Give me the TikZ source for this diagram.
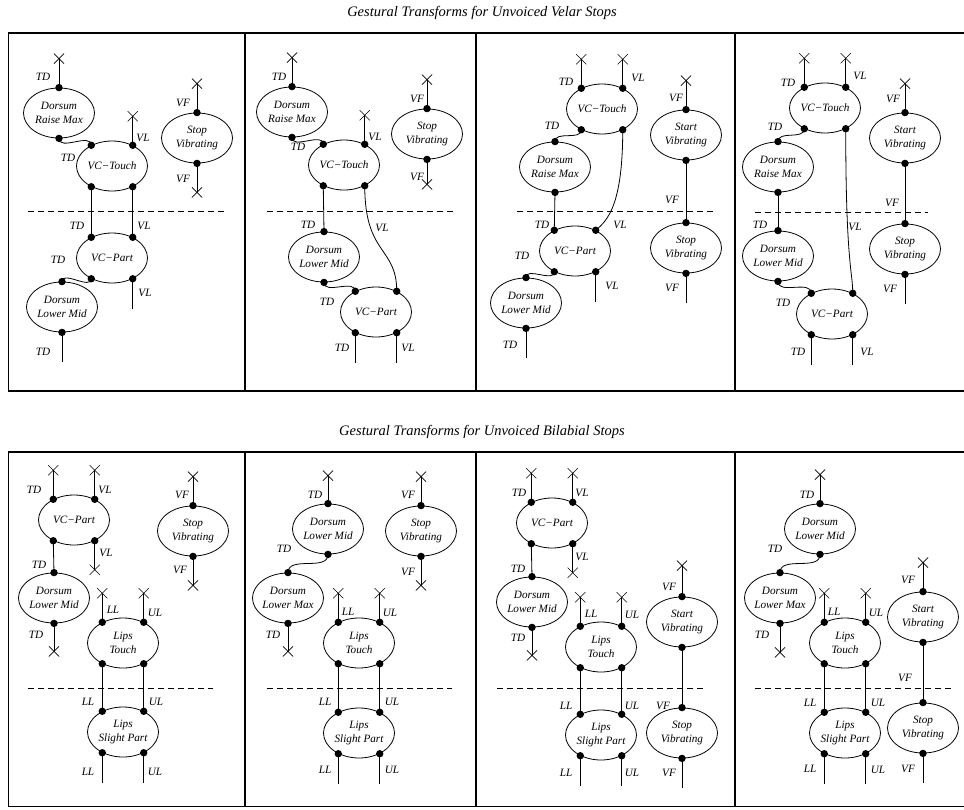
\documentclass[tikz,border=0pt]{standalone}
\usepackage{fontspec}
\setmainfont{Liberation Serif}
\usepackage{tikz}
\usetikzlibrary{shapes.geometric,shapes.misc}
\newcommand{\gestfont}{\itshape\fontsize{11.2}{14.5}\selectfont}
\newcommand{\headfont}{\itshape\fontsize{14.5}{16}\selectfont}

\begin{document}
\begin{tikzpicture}[x=1pt,y=-1pt,font=\gestfont,
gesture/.style={draw, ellipse, line width=0.8pt, minimum width=71pt, minimum height=50pt,
  inner xsep=-6pt, inner ysep=0pt, align=center},
stub/.style={draw, cross out, line width=0.6pt, minimum size=9.5pt, inner sep=0pt},
lbl/.style={inner sep=0pt},
wire/.style={line width=0.8pt},
wave/.style={out=-90, in=90},
cut/.style={dash pattern=on 6pt off 4pt, line width=0.7pt},
frame/.style={line width=1.3pt}]
\useasboundingbox (0,0) rectangle (964,809);

% titles and frames
\node[font=\headfont] (velar) at (482,13) {Gestural Transforms for Unvoiced Velar Stops};
\node[font=\headfont] (bilabial) at (482,432) {Gestural Transforms for Unvoiced Bilabial Stops};
\foreach \t/\b in {33/391, 452/806.5} {
  \draw[frame] (8.5,\t) rectangle (972,\b);
  \foreach \x in {245,476,735} \draw[frame] (\x,\t) -- (\x,\b);
}

% velar, panel 1
\node[gesture] (p1drm) at (59,113) {Dorsum\\Raise Max};
\node[gesture] (p1vct) at (112,166) {VC−Touch};
\node[gesture] (p1sv) at (197,138) {Stop\\Vibrating};
\node[gesture] (p1vcp) at (112,258) {VC−Part};
\node[gesture] (p1dlm) at (62,307) {Dorsum\\Lower Mid};
\node[stub] (p1x1) at ([yshift=29pt]p1drm.north) {};
\node[stub] (p1x2) at ([yshift=29pt]p1vct.45) {};
\node[stub] (p1x3) at ([yshift=29pt]p1sv.north) {};
\node[stub] (p1x4) at ([yshift=-29pt]p1sv.south) {};
\coordinate (p1e1) at ([yshift=-30pt]p1vcp.-45);
\coordinate (p1e2) at ([yshift=-30pt]p1dlm.south);
\draw[wire] (p1drm.north) -- (p1x1.center);
\draw[wire] (p1drm.south) to[wave] (p1vct.135);
\draw[wire] (p1vct.45) -- (p1x2.center);
\draw[wire] (p1sv.north) -- (p1x3.center);
\draw[wire] (p1sv.south) -- (p1x4.center);
\draw[wire] (p1vct.-135) -- (p1vcp.135);
\draw[wire] (p1vct.-45) -- (p1vcp.45);
\draw[wire] (p1vcp.-45) -- (p1e1);
\draw[wire] (p1vcp.-135) to[wave] (p1dlm.north);
\draw[wire] (p1dlm.south) -- (p1e2);
\draw[cut] (28,211) -- (227,211);
\foreach \x/\y/\t [count=\i] in {43/77/TD, 143/138/VL, 68/158/TD, 183/103/VF, 183/179/VF,
  77/226/TD, 144/226/VL, 58/260/TD, 145/293/VL, 43/352/TD}
  \node[lbl] (p1l\i) at (\x,\y) {\t};

% velar, panel 2
\node[gesture] (p2drm) at (292,112) {Dorsum\\Raise Max};
\node[gesture] (p2vct) at (344,165) {VC−Touch};
\node[gesture] (p2sv) at (427,134) {Stop\\Vibrating};
\node[gesture] (p2dlm) at (324,257) {Dorsum\\Lower Mid};
\node[gesture] (p2vcp) at (376,312) {VC−Part};
\node[stub] (p2x1) at ([yshift=29pt]p2drm.north) {};
\node[stub] (p2x2) at ([yshift=29pt]p2vct.45) {};
\node[stub] (p2x3) at ([yshift=29pt]p2sv.north) {};
\node[stub] (p2x4) at ([yshift=-25pt]p2sv.south) {};
\coordinate (p2e1) at ([yshift=-30pt]p2vcp.-135);
\coordinate (p2e2) at ([yshift=-30pt]p2vcp.-45);
\draw[wire] (p2drm.north) -- (p2x1.center);
\draw[wire] (p2drm.south) to[wave] (p2vct.135);
\draw[wire] (p2vct.45) -- (p2x2.center);
\draw[wire] (p2sv.north) -- (p2x3.center);
\draw[wire] (p2sv.south) -- (p2x4.center);
\draw[wire] (p2vct.-135) -- (p2dlm.north);
\draw[wire] (p2dlm.south) to[wave] (p2vcp.135);
\draw[wire] (p2vct.-45) .. controls +(0,70) and +(0,-45) .. (p2vcp.45);
\draw[wire] (p2vcp.-135) -- (p2e1);
\draw[wire] (p2vcp.-45) -- (p2e2);
\draw[cut] (267,211) -- (453,211);
\foreach \x/\y/\t [count=\i] in {279/77/TD, 375/137/VL, 298/147/TD, 417/99/VF, 417/177/VF,
  308/225/TD, 382/228/VL, 327/302/TD, 342/348/TD, 408/348/VL}
  \node[lbl] (p2l\i) at (\x,\y) {\t};

% velar, panel 3
\node[gesture] (p3vct) at (602,109) {VC−Touch};
\node[gesture] (p3start) at (686,135) {Start\\Vibrating};
\node[gesture] (p3drm) at (555,167) {Dorsum\\Raise Max};
\node[gesture] (p3vcp) at (575,251) {VC−Part};
\node[gesture] (p3stop) at (686,248) {Stop\\Vibrating};
\node[gesture] (p3dlm) at (526,303) {Dorsum\\Lower Mid};
\node[stub] (p3x1) at ([yshift=29pt]p3vct.135) {};
\node[stub] (p3x2) at ([yshift=29pt]p3vct.45) {};
\node[stub] (p3x3) at ([yshift=29pt]p3start.north) {};
\coordinate (p3e1) at ([yshift=-30pt]p3vcp.-45);
\coordinate (p3e2) at ([yshift=-30pt]p3dlm.south);
\coordinate (p3e3) at ([yshift=-30pt]p3stop.south);
\draw[wire] (p3vct.135) -- (p3x1.center);
\draw[wire] (p3vct.45) -- (p3x2.center);
\draw[wire] (p3start.north) -- (p3x3.center);
\draw[wire] (p3vct.-135) to[wave] (p3drm.north);
\draw[wire] (p3vct.-45) .. controls +(0,75) and +(12,-10) .. (p3vcp.45);
\draw[wire] (p3drm.south) -- (p3vcp.135);
\draw[wire] (p3start.south) -- (p3stop.north);
\draw[wire] (p3vcp.-45) -- (p3e1);
\draw[wire] (p3vcp.-135) to[wave] (p3dlm.north);
\draw[wire] (p3dlm.south) -- (p3e2);
\draw[wire] (p3stop.south) -- (p3e3);
\draw[cut] (517,211) -- (714,211);
\foreach \x/\y/\t [count=\i] in {566/82/TD, 638/78/VL, 676/98/VF, 552/126/TD, 672/200/VF,
  542/225/TD, 620/225/VL, 522/256/TD, 612/286/VL, 672/288/VF, 510/345/TD}
  \node[lbl] (p3l\i) at (\x,\y) {\t};

% velar, panel 4
\node[gesture] (p4vct) at (825,108) {VC−Touch};
\node[gesture] (p4start) at (905,138) {Start\\Vibrating};
\node[gesture] (p4drm) at (778,167) {Dorsum\\Raise Max};
\node[gesture] (p4dlm) at (778,256) {Dorsum\\Lower Mid};
\node[gesture] (p4vcp) at (832,314) {VC−Part};
\node[gesture] (p4stop) at (905,249) {Stop\\Vibrating};
\node[stub] (p4x1) at ([yshift=29pt]p4vct.135) {};
\node[stub] (p4x2) at ([yshift=29pt]p4vct.45) {};
\node[stub] (p4x3) at ([yshift=29pt]p4start.north) {};
\coordinate (p4e1) at ([yshift=-30pt]p4vcp.-135);
\coordinate (p4e2) at ([yshift=-30pt]p4vcp.-45);
\coordinate (p4e3) at ([yshift=-30pt]p4stop.south);
\draw[wire] (p4vct.135) -- (p4x1.center);
\draw[wire] (p4vct.45) -- (p4x2.center);
\draw[wire] (p4start.north) -- (p4x3.center);
\draw[wire] (p4vct.-135) to[wave] (p4drm.north);
\draw[wire] (p4drm.south) -- (p4dlm.north);
\draw[wire] (p4dlm.south) to[wave] (p4vcp.135);
\draw[wire] (p4vct.-45) .. controls +(0,135) and +(0,-22) .. (p4vcp.45);
\draw[wire] (p4start.south) -- (p4stop.north);
\draw[wire] (p4vcp.-135) -- (p4e1);
\draw[wire] (p4vcp.-45) -- (p4e2);
\draw[wire] (p4stop.south) -- (p4e3);
\draw[cut] (755,212) -- (928,212);
\foreach \x/\y/\t [count=\i] in {788/83/TD, 860/76/VL, 893/99/VF, 775/127/TD, 892/203/VF,
  760/225/TD, 855/227/VL, 783/303/TD, 890/289/VF, 798/352/TD, 867/352/VL}
  \node[lbl] (p4l\i) at (\x,\y) {\t};

% bilabial, panel 1
\node[gesture] (p5vcp) at (74,520) {VC−Part};
\node[gesture] (p5sv) at (193,531) {Stop\\Vibrating};
\node[gesture] (p5dlm) at (54,598) {Dorsum\\Lower Mid};
\node[gesture] (p5lt) at (123,643) {Lips\\Touch};
\node[gesture] (p5lsp) at (123,732) {Lips\\Slight Part};
\node[stub] (p5x1) at ([yshift=29pt]p5vcp.135) {};
\node[stub] (p5x2) at ([yshift=29pt]p5vcp.45) {};
\node[stub] (p5x3) at ([yshift=-29pt]p5vcp.-45) {};
\node[stub] (p5x4) at ([yshift=29pt]p5sv.north) {};
\node[stub] (p5x5) at ([yshift=-29pt]p5sv.south) {};
\node[stub] (p5x6) at ([yshift=-28pt]p5dlm.south) {};
\node[stub] (p5x7) at ([yshift=29pt]p5lt.135) {};
\node[stub] (p5x8) at ([yshift=29pt]p5lt.45) {};
\coordinate (p5e1) at ([yshift=-30pt]p5lsp.-135);
\coordinate (p5e2) at ([yshift=-30pt]p5lsp.-45);
\draw[wire] (p5vcp.135) -- (p5x1.center);
\draw[wire] (p5vcp.45) -- (p5x2.center);
\draw[wire] (p5vcp.-45) -- (p5x3.center);
\draw[wire] (p5vcp.-135) -- (p5dlm.north);
\draw[wire] (p5sv.north) -- (p5x4.center);
\draw[wire] (p5sv.south) -- (p5x5.center);
\draw[wire] (p5dlm.south) -- (p5x6.center);
\draw[wire] (p5lt.135) -- (p5x7.center);
\draw[wire] (p5lt.45) -- (p5x8.center);
\draw[wire] (p5lt.-135) -- (p5lsp.135);
\draw[wire] (p5lt.-45) -- (p5lsp.45);
\draw[wire] (p5lsp.-135) -- (p5e1);
\draw[wire] (p5lsp.-45) -- (p5e2);
\draw[cut] (28,688) -- (213,688);
\foreach \x/\y/\t [count=\i] in {34/490/TD, 105/490/VL, 106/553/VL, 39/565/TD, 182/495/VF,
  180/570/VF, 36/635/TD, 113/610/LL, 155/613/UL, 88/702/LL, 156/702/UL, 88/772/LL, 155/772/UL}
  \node[lbl] (p5l\i) at (\x,\y) {\t};

% bilabial, panel 2
\node[gesture] (p6dlm) at (328,529) {Dorsum\\Lower Mid};
\node[gesture] (p6sv) at (421,531) {Stop\\Vibrating};
\node[gesture] (p6dlx) at (288,598) {Dorsum\\Lower Max};
\node[gesture] (p6lt) at (359,643) {Lips\\Touch};
\node[gesture] (p6lsp) at (359,733) {Lips\\Slight Part};
\node[stub] (p6x1) at ([yshift=28pt]p6dlm.north) {};
\node[stub] (p6x2) at ([yshift=29pt]p6sv.north) {};
\node[stub] (p6x3) at ([yshift=-29pt]p6sv.south) {};
\node[stub] (p6x4) at ([yshift=-28pt]p6dlx.south) {};
\node[stub] (p6x5) at ([yshift=29pt]p6lt.135) {};
\node[stub] (p6x6) at ([yshift=29pt]p6lt.45) {};
\coordinate (p6e1) at ([yshift=-30pt]p6lsp.-135);
\coordinate (p6e2) at ([yshift=-30pt]p6lsp.-45);
\draw[wire] (p6dlm.north) -- (p6x1.center);
\draw[wire] (p6dlm.south) to[wave] (p6dlx.north);
\draw[wire] (p6sv.north) -- (p6x2.center);
\draw[wire] (p6sv.south) -- (p6x3.center);
\draw[wire] (p6dlx.south) -- (p6x4.center);
\draw[wire] (p6lt.135) -- (p6x5.center);
\draw[wire] (p6lt.45) -- (p6x6.center);
\draw[wire] (p6lt.-135) -- (p6lsp.135);
\draw[wire] (p6lt.-45) -- (p6lsp.45);
\draw[wire] (p6lsp.-135) -- (p6e1);
\draw[wire] (p6lsp.-45) -- (p6e2);
\draw[cut] (267,688) -- (452,688);
\foreach \x/\y/\t [count=\i] in {315/495/TD, 408/495/VF, 408/572/VF, 284/549/TD, 273/635/TD,
  348/612/LL, 390/613/UL, 325/702/LL, 392/702/UL, 325/770/LL, 392/770/UL}
  \node[lbl] (p6l\i) at (\x,\y) {\t};

% bilabial, panel 3
\node[gesture] (p7vcp) at (552,523) {VC−Part};
\node[gesture] (p7dlm) at (532,602) {Dorsum\\Lower Mid};
\node[gesture] (p7lt) at (601,647) {Lips\\Touch};
\node[gesture] (p7start) at (682,622) {Start\\Vibrating};
\node[gesture] (p7lsp) at (601,735) {Lips\\Slight Part};
\node[gesture] (p7stop) at (682,733) {Stop\\Vibrating};
\node[stub] (p7x1) at ([yshift=29pt]p7vcp.135) {};
\node[stub] (p7x2) at ([yshift=29pt]p7vcp.45) {};
\node[stub] (p7x3) at ([yshift=-29pt]p7vcp.-45) {};
\node[stub] (p7x4) at ([yshift=-28pt]p7dlm.south) {};
\node[stub] (p7x5) at ([yshift=29pt]p7lt.135) {};
\node[stub] (p7x6) at ([yshift=29pt]p7lt.45) {};
\node[stub] (p7x7) at ([yshift=31pt]p7start.north) {};
\coordinate (p7e1) at ([yshift=-30pt]p7lsp.-135);
\coordinate (p7e2) at ([yshift=-30pt]p7lsp.-45);
\coordinate (p7e3) at ([yshift=-30pt]p7stop.south);
\draw[wire] (p7vcp.135) -- (p7x1.center);
\draw[wire] (p7vcp.45) -- (p7x2.center);
\draw[wire] (p7vcp.-45) -- (p7x3.center);
\draw[wire] (p7vcp.-135) -- (p7dlm.north);
\draw[wire] (p7dlm.south) -- (p7x4.center);
\draw[wire] (p7lt.135) -- (p7x5.center);
\draw[wire] (p7lt.45) -- (p7x6.center);
\draw[wire] (p7lt.-135) -- (p7lsp.135);
\draw[wire] (p7lt.-45) -- (p7lsp.45);
\draw[wire] (p7lsp.-135) -- (p7e1);
\draw[wire] (p7lsp.-45) -- (p7e2);
\draw[wire] (p7start.north) -- (p7x7.center);
\draw[wire] (p7start.south) -- (p7stop.north);
\draw[wire] (p7stop.south) -- (p7e3);
\draw[cut] (497,688) -- (706,688);
\foreach \x/\y/\t [count=\i] in {519/493/TD, 582/493/VL, 582/557/VL, 518/569/TD, 518/638/TD,
  591/614/LL, 632/615/UL, 669/587/VF, 566/706/LL, 632/706/UL, 663/706/VF,
  566/773/LL, 632/773/UL, 669/773/VF}
  \node[lbl] (p7l\i) at (\x,\y) {\t};

% bilabial, panel 4
\node[gesture] (p8dlm) at (820,529) {Dorsum\\Lower Mid};
\node[gesture] (p8dlx) at (780,598) {Dorsum\\Lower Max};
\node[gesture] (p8lt) at (845,643) {Lips\\Touch};
\node[gesture] (p8start) at (923,617) {Start\\Vibrating};
\node[gesture] (p8lsp) at (845,733) {Lips\\Slight Part};
\node[gesture] (p8stop) at (923,728) {Stop\\Vibrating};
\node[stub] (p8x1) at ([yshift=29pt]p8dlm.north) {};
\node[stub] (p8x2) at ([yshift=-29pt]p8dlx.south) {};
\node[stub] (p8x3) at ([yshift=29pt]p8lt.135) {};
\node[stub] (p8x4) at ([yshift=29pt]p8lt.45) {};
\node[stub] (p8x5) at ([yshift=29pt]p8start.north) {};
\coordinate (p8e1) at ([yshift=-30pt]p8lsp.-135);
\coordinate (p8e2) at ([yshift=-30pt]p8lsp.-45);
\coordinate (p8e3) at ([yshift=-30pt]p8stop.south);
\draw[wire] (p8dlm.north) -- (p8x1.center);
\draw[wire] (p8dlm.south) to[wave] (p8dlx.north);
\draw[wire] (p8dlx.south) -- (p8x2.center);
\draw[wire] (p8lt.135) -- (p8x3.center);
\draw[wire] (p8lt.45) -- (p8x4.center);
\draw[wire] (p8lt.-135) -- (p8lsp.135);
\draw[wire] (p8lt.-45) -- (p8lsp.45);
\draw[wire] (p8lsp.-135) -- (p8e1);
\draw[wire] (p8lsp.-45) -- (p8e2);
\draw[wire] (p8start.north) -- (p8x5.center);
\draw[wire] (p8start.south) -- (p8stop.north);
\draw[wire] (p8stop.south) -- (p8e3);
\draw[cut] (755,688) -- (953,688);
\foreach \x/\y/\t [count=\i] in {807/495/TD, 775/549/TD, 762/635/TD, 834/612/LL, 876/613/UL,
  908/580/VF, 905/678/VF, 810/703/LL, 878/703/UL, 810/769/LL, 878/770/UL, 908/769/VF}
  \node[lbl] (p8l\i) at (\x,\y) {\t};

% ports
\foreach \g in {p1vct,p1vcp,p2vct,p2vcp,p3vct,p3vcp,p4vct,p4vcp,
  p5vcp,p5lt,p5lsp,p6lt,p6lsp,p7vcp,p7lt,p7lsp,p8lt,p8lsp}
  \foreach \a in {45,135,-45,-135} \fill (\g.\a) circle (3.7);
\foreach \g in {p1drm,p1sv,p1dlm,p2drm,p2sv,p2dlm,p3start,p3drm,p3stop,p3dlm,
  p4start,p4drm,p4dlm,p4stop,p5sv,p5dlm,p6dlm,p6sv,p6dlx,
  p7dlm,p7start,p7stop,p8dlm,p8dlx,p8start,p8stop}
  \foreach \a in {north,south} \fill (\g.\a) circle (3.7);
\end{tikzpicture}
\end{document}
